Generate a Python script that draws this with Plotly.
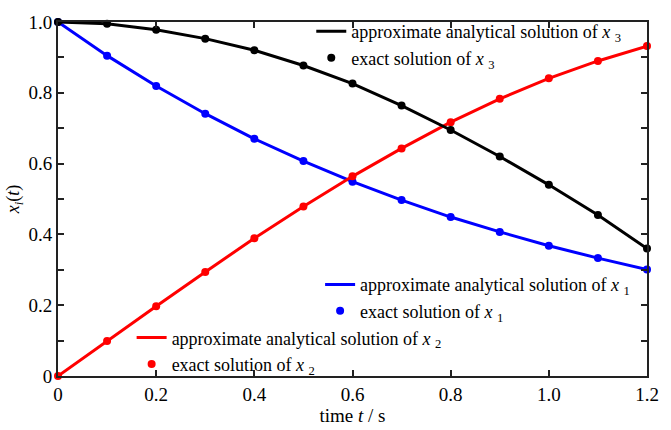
import plotly.graph_objects as go

t = [0.0, 0.1, 0.2, 0.3, 0.4, 0.5, 0.6, 0.7, 0.8, 0.9, 1.0, 1.1, 1.2]
x1 = [1.0, 0.905, 0.819, 0.741, 0.670, 0.607, 0.549, 0.497, 0.449, 0.407, 0.368, 0.333, 0.301]
x2 = [0.0, 0.099, 0.197, 0.294, 0.389, 0.479, 0.564, 0.643, 0.717, 0.783, 0.841, 0.890, 0.932]
x3 = [1.0, 0.995, 0.978, 0.953, 0.920, 0.877, 0.826, 0.764, 0.695, 0.620, 0.540, 0.455, 0.360]

series = [
    ("1", x1, "#0000ff", "legend2"),
    ("2", x2, "#ff0000", "legend3"),
    ("3", x3, "#000000", "legend"),
]

FONT = "Liberation Serif"
fig = go.Figure()
for idx, ys, col, leg in series:
    fig.add_trace(go.Scatter(
        x=t, y=ys, mode="lines", line=dict(color=col, width=3),
        name=f"approximate analytical solution of <i>x</i> <sub>{idx}</sub>",
        legend=leg, cliponaxis=False))
    fig.add_trace(go.Scatter(
        x=t, y=ys, mode="markers", marker=dict(color=col, size=8),
        name=f"exact solution of <i>x</i> <sub>{idx}</sub>",
        legend=leg, cliponaxis=False))

legstyle = dict(font=dict(family=FONT, size=18, color="black"),
                bgcolor="rgba(0,0,0,0)", tracegroupgap=0,
                xanchor="left", yanchor="top", itemwidth=30)
fig.update_layout(
    width=671, height=430,
    margin=dict(l=58, r=12, t=14, b=44),
    paper_bgcolor="white", plot_bgcolor="white",
    font=dict(family=FONT, size=18, color="black"),
    legend=dict(x=0.43, y=1.025, **legstyle),
    legend2=dict(x=0.445, y=0.31, **legstyle),
    legend3=dict(x=0.125, y=0.16, **legstyle),
    xaxis=dict(range=[0, 1.2], tickvals=[0, 0.2, 0.4, 0.6, 0.8, 1.0, 1.2],
               ticktext=["0", "0.2", "0.4", "0.6", "0.8", "1.0", "1.2"],
               showgrid=False, zeroline=False, showline=True, linecolor="#222", linewidth=2,
               mirror="allticks", ticks="inside", ticklen=6, tickwidth=2, tickcolor="#222",
               tickfont=dict(family=FONT, size=19),
               title=dict(text="time <i>t</i> / s", standoff=0, font=dict(family=FONT, size=19))),
    yaxis=dict(range=[0, 1.0], tickvals=[0, 0.2, 0.4, 0.6, 0.8, 1.0],
               ticktext=["0", "0.2", "0.4", "0.6", "0.8", "1.0"],
               showgrid=False, zeroline=False, showline=True, linecolor="#222", linewidth=2,
               mirror="allticks", ticks="inside", ticklen=6, tickwidth=2, tickcolor="#222",
               tickfont=dict(family=FONT, size=19),
               minor=dict(dtick=0.1, ticks="inside", ticklen=6, tickwidth=2, tickcolor="#222", showgrid=False),
               title=dict(text="<i>x</i><sub><i>i</i></sub>(<i>t</i>)", standoff=4, font=dict(family=FONT, size=18))),
)
fig.write_html("out.html")
